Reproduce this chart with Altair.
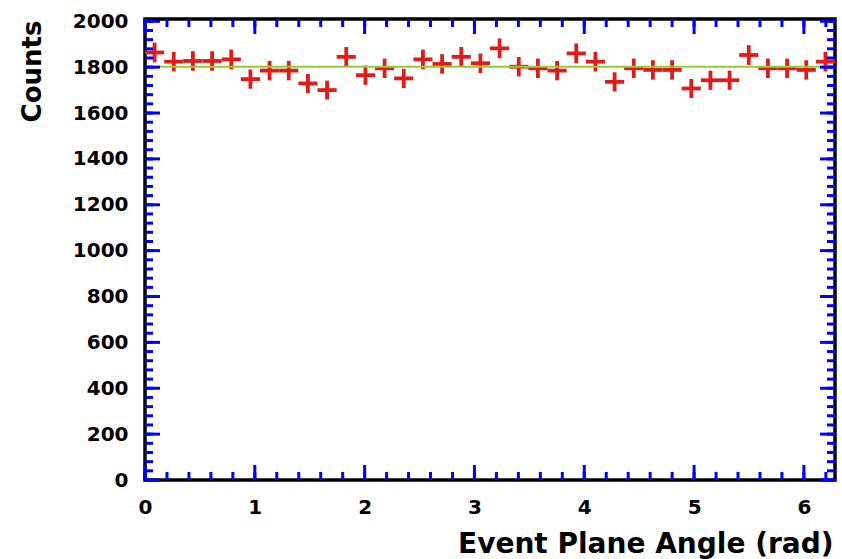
import math
import altair as alt
import pandas as pd

# ---- data ----
n_bins = 36
x_min = 0.0
x_max = 2 * math.pi
counts = [1864, 1824, 1827, 1827, 1834, 1748, 1785, 1785, 1729, 1700, 1845, 1765,
          1795, 1751, 1834, 1814, 1845, 1817, 1882, 1802, 1795, 1785, 1860, 1824,
          1736, 1795, 1788, 1788, 1707, 1743, 1743, 1853, 1795, 1795, 1788, 1824]
fit_const = 1802
x_tick_labels = [0, 1, 2, 3, 4, 5, 6]
y_tick_labels = list(range(0, 2001, 200))
x_minor = [round(0.2 * k, 1) for k in range(0, 32)]
y_minor = list(range(0, 2001, 40))

bw = (x_max - x_min) / n_bins
df = pd.DataFrame({
    "lo": [x_min + i * bw for i in range(n_bins)],
    "hi": [x_min + (i + 1) * bw for i in range(n_bins)],
    "center": [x_min + (i + 0.5) * bw for i in range(n_bins)],
    "count": counts,
})
df["elo"] = df["count"] - df["count"].apply(math.sqrt)
df["ehi"] = df["count"] + df["count"].apply(math.sqrt)

fit_df = pd.DataFrame({"x0": [x_min], "x1": [x_max], "f": [fit_const]})

W, H = 690, 461
Y_TOP = 2010
FONT = "DejaVu Sans"
RED = "#e01b1b"
GREEN = "#95cc2c"
TICK = "#0000ff"

xs = alt.Scale(domain=[x_min, x_max], nice=False, zero=False)
ys = alt.Scale(domain=[0, Y_TOP], nice=False, zero=False)

xaxis = alt.Axis(values=x_tick_labels, title="Event Plane Angle (rad)", format="d",
                 domain=False, ticks=False, grid=False,
                 labelFont=FONT, labelFontSize=20, labelFontWeight="bold", labelColor="black",
                 labelPadding=33, labelBaseline="alphabetic", labelFlush=False, labelOverlap=False,
                 titleFont=FONT, titleFontSize=28, titleFontWeight="bold", titleColor="black",
                 titleX=688, titleY=72, titleAlign="right", titleBaseline="alphabetic")
yaxis = alt.Axis(values=y_tick_labels, title="Counts", format="d",
                 domain=False, ticks=False, grid=False,
                 labelFont=FONT, labelFontSize=20, labelFontWeight="bold", labelColor="black",
                 labelPadding=17, labelFlush=False, labelOverlap=False,
                 titleFont=FONT, titleFontSize=26, titleFontWeight="bold", titleColor="black",
                 titleAngle=270, titleX=-105, titleY=1, titleAlign="right",
                 titleBaseline="alphabetic")

hbars = alt.Chart(df).mark_rule(color=RED, strokeWidth=3.8).encode(
    x=alt.X("lo:Q", scale=xs, axis=xaxis), x2="hi", y=alt.Y("count:Q", scale=ys, axis=yaxis))
vbars = alt.Chart(df).mark_rule(color=RED, strokeWidth=3.8).encode(
    x=alt.X("center:Q", scale=xs), y=alt.Y("elo:Q", scale=ys), y2="ehi")
fit = alt.Chart(fit_df).mark_rule(color=GREEN, strokeWidth=2).encode(
    x=alt.X("x0:Q", scale=xs), x2="x1", y=alt.Y("f:Q", scale=ys))

# inward frame ticks (ROOT style), lengths in pixels converted to data units
MAJ, MIN = 15, 8
TW = 3
px_x = (x_max - x_min) / W
px_y = Y_TOP / H

xt_rows = []
for t in x_tick_labels:
    xt_rows.append({"xp": t, "ya": Y_TOP, "yb": Y_TOP - MAJ * px_y})
    xt_rows.append({"xp": t, "ya": 0, "yb": MAJ * px_y})
for t in x_minor:
    xt_rows.append({"xp": t, "ya": Y_TOP, "yb": Y_TOP - MIN * px_y})
    xt_rows.append({"xp": t, "ya": 0, "yb": MIN * px_y})
xt_df = pd.DataFrame(xt_rows)

yt_rows = []
for t in y_tick_labels:
    yt_rows.append({"yp": t, "xa": x_min, "xb": x_min + MAJ * px_x})
    yt_rows.append({"yp": t, "xa": x_max, "xb": x_max - MAJ * px_x})
for t in y_minor:
    yt_rows.append({"yp": t, "xa": x_min, "xb": x_min + MIN * px_x})
    yt_rows.append({"yp": t, "xa": x_max, "xb": x_max - MIN * px_x})
yt_df = pd.DataFrame(yt_rows)

xticks = alt.Chart(xt_df).mark_rule(color=TICK, strokeWidth=TW).encode(
    x=alt.X("xp:Q", scale=xs), y=alt.Y("ya:Q", scale=ys), y2="yb")
yticks = alt.Chart(yt_df).mark_rule(color=TICK, strokeWidth=TW).encode(
    y=alt.Y("yp:Q", scale=ys), x=alt.X("xa:Q", scale=xs), x2="xb")

chart = alt.layer(hbars, vbars, fit, xticks, yticks).properties(
    width=W, height=H,
    autosize=alt.AutoSizeParams(type="none"),
    padding={"left": 145, "top": 19, "right": 7, "bottom": 79},
    background="white",
).configure_view(stroke="black", strokeWidth=3.5)

chart.save("out.html", embed_options={"renderer": "svg", "actions": False})
